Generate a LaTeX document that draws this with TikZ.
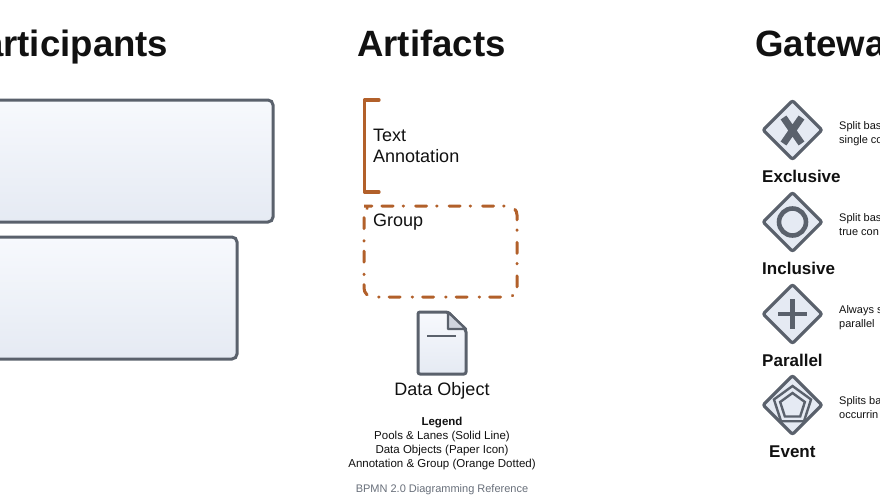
\documentclass[tikz,border=0pt]{standalone}
\usepackage{fontspec}
\setmainfont{Liberation Sans}
\definecolor{BSlate}{HTML}{5A616C}
\definecolor{BTop}{HTML}{F7F9FD}
\definecolor{BBottom}{HTML}{E5EAF3}
\definecolor{BRust}{HTML}{B2602A}
\definecolor{BInk}{HTML}{111111}
\definecolor{BMuted}{HTML}{69707B}
\usetikzlibrary{shapes.geometric}
\tikzset{
  headline/.style={anchor=base west,font=\fontsize{36.6}{37}\selectfont\bfseries,text=BInk,inner sep=0pt},
  bodytext/.style={anchor=base west,font=\fontsize{18}{18}\selectfont,text=BInk,inner sep=0pt},
  gatename/.style={anchor=base west,font=\fontsize{17}{18}\selectfont\bfseries,text=BInk,inner sep=0pt},
  gatenote/.style={anchor=base west,font=\fontsize{11}{11}\selectfont,text=BInk,inner sep=0pt},
  legendtext/.style={anchor=base,font=\fontsize{11.5}{12}\selectfont,text=BInk,inner sep=0pt},
  poolbox/.style={draw=BSlate,line width=3pt,rounded corners=5pt,top color=BTop,bottom color=BBottom},
  gatebox/.style={diamond,draw=BSlate,line width=3.2pt,fill=BBottom,aspect=1,minimum size=60pt,inner sep=0pt,rounded corners=2pt},
  gatemark/.style={draw=BSlate,line width=2.4pt}
}
\begin{document}
\begin{tikzpicture}[x=1pt,y=-1pt]
  \useasboundingbox (0,0) rectangle (880,498);
  \clip (0,0) rectangle (880,498);
  \fill[white] (0,0) rectangle (880,498);
  % column titles
  \node[headline,anchor=base east] (titlePart) at (168.5,56.5) {Participants};
  \node[headline] (titleArt) at (357,56.5) {Artifacts};
  \node[headline] (titleGate) at (755,56.5) {Gateways};
  % pools
  \draw[poolbox] (-20,100) rectangle (273,222);
  \draw[poolbox] (-20,237) rectangle (237,359);
  % annotation
  \draw[BRust,line width=3.2pt,line cap=round,line join=round] (379,100) -- (364.5,100) -- (364.5,192) -- (379,192);
  \node[bodytext] (annotA) at (373,141.5) {Text};
  \node[bodytext] (annotB) at (373,162.5) {Annotation};
  % group
  \draw[BRust,line width=3pt,line cap=round,rounded corners=9pt,dash pattern=on 11pt off 10pt on 0.5pt off 12pt]
    (373,206) -- (517,206) -- (517,297) -- (364,297) -- (364,206) -- cycle;
  \node[bodytext] (groupLabel) at (373,226.5) {Group};
  % data object
  \draw[BSlate,line width=3pt,line join=round,rounded corners=2pt,top color=BTop,bottom color=BBottom]
    (418,312) -- (448,312) -- (466,330) -- (466,374) -- (418,374) -- cycle;
  \draw[BSlate,line width=2.4pt,line join=round,fill=BBottom!85!BSlate] (448,312) -- (448,329) -- (466,329) -- cycle;
  \draw[BSlate,line width=2.2pt] (427,336) -- (456,336);
  \node[bodytext,anchor=base] (dataLabel) at (442,395) {Data Object};
  % legend
  \node[legendtext,font=\fontsize{11.5}{12}\selectfont\bfseries] (legendHead) at (442,425) {Legend};
  \foreach \txt/\ypos in {Pools \& Lanes (Solid Line)/439,Data Objects (Paper Icon)/453,Annotation \& Group (Orange Dotted)/467}{
    \node[legendtext] at (442,\ypos) {\txt};
  }
  \node[legendtext,text=BMuted,font=\fontsize{11}{11}\selectfont] (footer) at (442,492) {BPMN 2.0 Diagramming Reference};
  % gateways
  \foreach \gname/\gy/\gx/\noteA/\noteB in {Exclusive/130/762/Split bas/single co,Inclusive/222/762/Split bas/true con,Parallel/314/762/Always s/parallel,Event/405/769/Splits ba/occurrin}{
    \node[gatebox] (gate\gname) at (792.5,\gy) {};
    \node[gatename] at (\gx,\gy+52) {\gname};
    \node[gatenote] at (839,\gy-1) {\noteA};
    \node[gatenote] at (839,\gy+13) {\noteB};
  }
  \draw[gatemark,line width=7pt] (783.5,117.5) -- (801.5,143.5) (801.5,117.5) -- (783.5,143.5);
  \draw[gatemark,line width=4.6pt] (gateInclusive.center) circle (13.5pt);
  \draw[gatemark,line width=4.6pt] (778,314) -- (807,314) (792.5,299) -- (792.5,329);
  \node[regular polygon,regular polygon sides=5,gatemark,minimum size=39pt,inner sep=0pt] (penOuter) at (792.5,405.5) {};
  \node[regular polygon,regular polygon sides=5,gatemark,minimum size=26pt,inner sep=0pt] (penInner) at (792.5,406) {};
\end{tikzpicture}
\end{document}
